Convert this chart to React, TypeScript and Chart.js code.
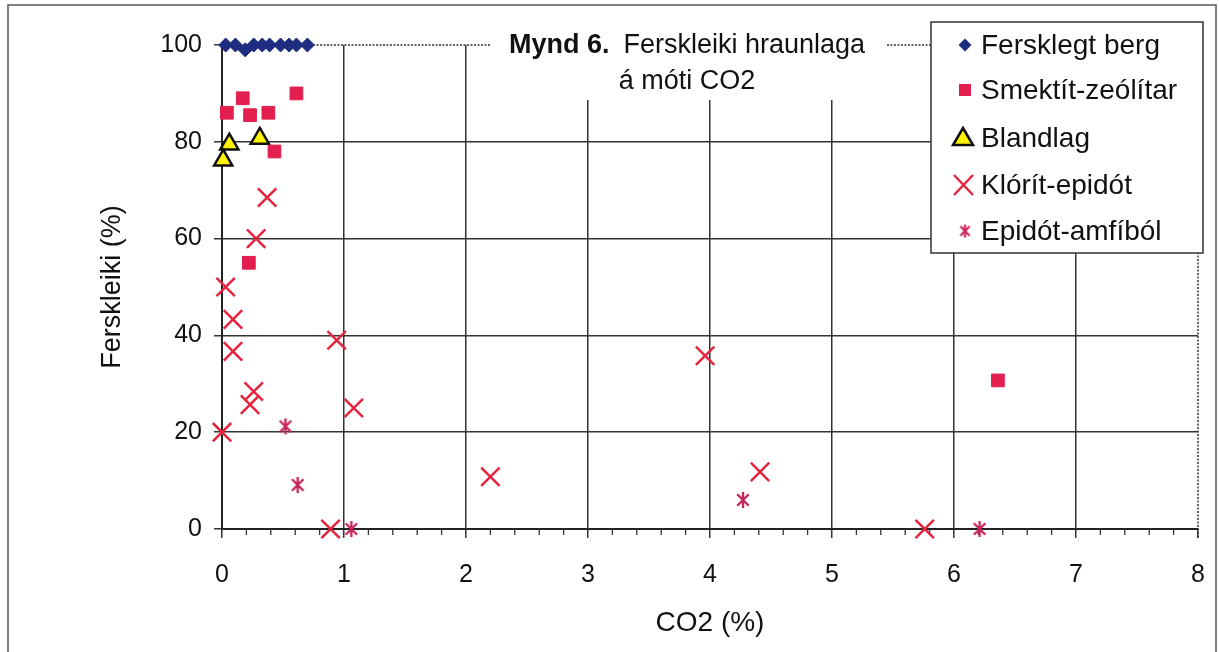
import React, { useEffect, useRef } from 'react';
import { Chart, registerables } from 'chart.js';

Chart.register(...registerables);

const FONT = '"Liberation Sans", Arial, Helvetica, sans-serif';

// ---- data ----
const xTickValues = [0, 1, 2, 3, 4, 5, 6, 7, 8];
const yTickValues = [0, 20, 40, 60, 80, 100];

const seriesNames = ['Fersklegt berg', 'Smektít-zeólítar', 'Blandlag', 'Klórít-epidót', 'Epidót-amfíból'];

const ferskX = [0.03, 0.11, 0.19, 0.26, 0.33, 0.39, 0.48, 0.55, 0.61, 0.70];
const ferskY = [100, 100, 99, 100, 100, 100, 100, 100, 100, 100];

const smekX = [0.04, 0.17, 0.23, 0.38, 0.61, 0.43, 0.22, 6.36];
const smekY = [86, 89, 85.5, 86, 90, 78, 55, 30.7];

const blandX = [0.06, 0.01, 0.31];
const blandY = [79.5, 76.2, 80.7];

const klorX = [0.37, 0.28, 0.03, 0.09, 0.09, 0.94, 0.26, 0.23, 1.08, 0.0, 0.89, 2.2, 3.96, 4.41, 5.76];
const klorY = [68.5, 60, 50, 43.3, 36.7, 39, 28.4, 25.7, 25, 20, 0, 10.8, 35.8, 11.8, 0];

const epiX = [0.52, 0.62, 1.06, 4.27, 6.21];
const epiY = [21.2, 9.1, 0, 6, 0];

const titleBold = 'Mynd 6.';
const titleRest = 'Ferskleiki hraunlaga';
const titleLine2 = 'á móti CO2';
const xTitle = 'CO2 (%)';
const yTitle = 'Ferskleiki (%)';

// ---- styles ----
const C_DIAMOND = '#1f2d80';
const C_SQUARE = '#e21f4f';
const C_TRI_FILL = '#fff200';
const C_TRI_BORDER = '#111111';
const C_CROSS = '#e3253f';
const C_STAR = '#c8265e';
const C_GRID = '#333333';
const C_TEXT = '#111111';

const toPts = (xs: number[], ys: number[]) => xs.map((x, i) => ({ x, y: ys[i] }));

function makeAsterisk(color: string, size: number, lw: number) {
  const c = document.createElement('canvas');
  c.width = size;
  c.height = size;
  const g = c.getContext('2d')!;
  g.strokeStyle = color;
  g.lineWidth = lw;
  const m = size / 2;
  const r = size / 2 - 1;
  const d = r * 0.72;
  g.beginPath();
  g.moveTo(m, m - r);
  g.lineTo(m, m + r);
  g.moveTo(m - d, m - d);
  g.lineTo(m + d, m + d);
  g.moveTo(m + d, m - d);
  g.lineTo(m - d, m + d);
  g.stroke();
  return c;
}

export default function App() {
  const ref = useRef<HTMLCanvasElement | null>(null);

  useEffect(() => {
    if (!ref.current) return;
    const star = makeAsterisk(C_STAR, 18, 2.4);
    const starSmall = makeAsterisk(C_STAR, 15, 2.2);

    const decor = {
      id: 'decor',
      beforeDatasetsDraw(chart: any) {
        const { ctx, chartArea: a, scales } = chart;
        const x = scales.x;
        const y = scales.y;
        ctx.save();
        // dotted plot border (top and right)
        ctx.strokeStyle = '#333';
        ctx.lineWidth = 1.5;
        ctx.setLineDash([2, 1.5]);
        const yt = y.getPixelForValue(y.max);
        const xr = x.getPixelForValue(x.max);
        ctx.beginPath();
        ctx.moveTo(a.left, yt);
        ctx.lineTo(xr, yt);
        ctx.lineTo(xr, y.getPixelForValue(y.min) + 9);
        ctx.stroke();
        ctx.setLineDash([]);
        // minor ticks on x axis
        ctx.strokeStyle = C_GRID;
        ctx.lineWidth = 1.3;
        ctx.beginPath();
        for (let k = 1; k < (x.max - x.min) * 5; k++) {
          if (k % 5 === 0) continue;
          const px = x.getPixelForValue(x.min + k / 5);
          ctx.moveTo(px, a.bottom);
          ctx.lineTo(px, a.bottom + 6);
        }
        ctx.stroke();
        ctx.restore();
      },
      afterDraw(chart: any) {
        const { ctx } = chart;
        ctx.save();
        // ---- title ----
        ctx.fillStyle = '#ffffff';
        ctx.fillRect(490, 28, 396, 72);
        ctx.fillStyle = C_TEXT;
        ctx.textBaseline = 'middle';
        ctx.font = `bold 27px ${FONT}`;
        const wB = ctx.measureText(titleBold).width;
        ctx.font = `27px ${FONT}`;
        const wN = ctx.measureText(titleRest).width;
        const gap = 14;
        const total = wB + gap + wN;
        const cx = 687;
        const sx = cx - total / 2;
        ctx.textAlign = 'left';
        ctx.font = `bold 27px ${FONT}`;
        ctx.fillText(titleBold, sx, 46);
        ctx.font = `27px ${FONT}`;
        ctx.fillText(titleRest, sx + wB + gap, 46);
        ctx.textAlign = 'center';
        ctx.fillText(titleLine2, cx, 82);

        // ---- legend ----
        const lx = 931, ly = 22, lw = 272, lh = 231;
        ctx.fillStyle = '#ffffff';
        ctx.fillRect(lx, ly, lw, lh);
        ctx.strokeStyle = '#333';
        ctx.lineWidth = 1.5;
        ctx.strokeRect(lx, ly, lw, lh);
        const rows = [45, 90, 138, 185, 231];
        const symX = 965;
        // diamond
        ctx.fillStyle = C_DIAMOND;
        ctx.beginPath();
        ctx.moveTo(symX - 6.5, rows[0]);
        ctx.lineTo(symX, rows[0] - 6.5);
        ctx.lineTo(symX + 6.5, rows[0]);
        ctx.lineTo(symX, rows[0] + 6.5);
        ctx.closePath();
        ctx.fill();
        // square
        ctx.fillStyle = C_SQUARE;
        ctx.fillRect(symX - 6, rows[1] - 6, 12, 12);
        // triangle
        ctx.fillStyle = C_TRI_FILL;
        ctx.strokeStyle = C_TRI_BORDER;
        ctx.lineWidth = 2.5;
        ctx.beginPath();
        ctx.moveTo(symX - 2, rows[2] - 10);
        ctx.lineTo(symX + 8, rows[2] + 7);
        ctx.lineTo(symX - 12, rows[2] + 7);
        ctx.closePath();
        ctx.fill();
        ctx.stroke();
        // cross
        ctx.strokeStyle = C_CROSS;
        ctx.lineWidth = 2.5;
        ctx.beginPath();
        ctx.moveTo(symX - 11, rows[3] - 10);
        ctx.lineTo(symX + 8, rows[3] + 10);
        ctx.moveTo(symX + 8, rows[3] - 10);
        ctx.lineTo(symX - 11, rows[3] + 10);
        ctx.stroke();
        // asterisk
        ctx.drawImage(starSmall, symX - 7.5, rows[4] - 7.5);
        // labels
        ctx.fillStyle = C_TEXT;
        ctx.font = `28px ${FONT}`;
        ctx.textAlign = 'left';
        ctx.textBaseline = 'middle';
        seriesNames.forEach((n, i) => ctx.fillText(n, 981, rows[i] + 1));

        // ---- outer frame ----
        ctx.strokeStyle = '#555';
        ctx.lineWidth = 1.5;
        ctx.beginPath();
        ctx.moveTo(8, 660);
        ctx.lineTo(8, 5);
        ctx.lineTo(1216, 5);
        ctx.lineTo(1216, 660);
        ctx.stroke();
        ctx.restore();
      },
    };

    const chart = new Chart(ref.current, {
      type: 'scatter',
      data: {
        datasets: [
          {
            label: seriesNames[0],
            data: toPts(ferskX, ferskY),
            pointStyle: 'rectRot',
            pointRadius: 7,
            backgroundColor: C_DIAMOND,
            borderColor: C_DIAMOND,
            borderWidth: 1,
            clip: false,
          },
          {
            label: seriesNames[1],
            data: toPts(smekX, smekY),
            pointStyle: 'rect',
            pointRadius: 9,
            backgroundColor: C_SQUARE,
            borderColor: C_SQUARE,
            borderWidth: 1,
            clip: false,
          },
          {
            label: seriesNames[2],
            data: toPts(blandX, blandY),
            pointStyle: 'triangle',
            pointRadius: 10.5,
            backgroundColor: C_TRI_FILL,
            borderColor: C_TRI_BORDER,
            borderWidth: 2.5,
            clip: false,
          },
          {
            label: seriesNames[3],
            data: toPts(klorX, klorY),
            pointStyle: 'crossRot',
            pointRadius: 13,
            backgroundColor: C_CROSS,
            borderColor: C_CROSS,
            borderWidth: 2.5,
            clip: false,
          },
          {
            label: seriesNames[4],
            data: toPts(epiX, epiY),
            pointStyle: star as any,
            pointRadius: 9,
            backgroundColor: C_STAR,
            borderColor: C_STAR,
            clip: false,
          },
        ],
      },
      options: {
        animation: false,
        responsive: false,
        maintainAspectRatio: false,
        events: [],
        layout: { padding: { left: 0, right: 21, top: 45, bottom: 0 } },
        plugins: {
          legend: { display: false },
          title: { display: false },
          tooltip: { enabled: false },
        },
        scales: {
          x: {
            type: 'linear',
            min: xTickValues[0],
            max: xTickValues[xTickValues.length - 1],
            afterFit: (s: any) => {
              s.height = 123;
              s.paddingLeft = 0;
              s.paddingRight = 0;
            },
            afterBuildTicks: (s: any) => { s.ticks = xTickValues.map((v) => ({ value: v })); },
            ticks: {
              stepSize: 1,
              autoSkip: false,
              maxRotation: 0,
              padding: 22,
              color: C_TEXT,
              font: { family: FONT, size: 25 },
            },
            grid: {
              color: (c: any) => (c.tick && c.tick.value === 8 ? 'rgba(0,0,0,0)' : C_GRID),
              tickColor: C_GRID,
              lineWidth: 1.5,
              tickLength: 9,
            },
            border: { display: true, color: '#222', width: 2 },
            title: {
              display: true,
              text: xTitle,
              color: C_TEXT,
              font: { family: FONT, size: 28 },
              padding: { top: 0, bottom: 12 },
            },
          },
          y: {
            type: 'linear',
            min: yTickValues[0],
            max: yTickValues[yTickValues.length - 1],
            afterFit: (s: any) => { s.width = 222; },
            afterBuildTicks: (s: any) => { s.ticks = yTickValues.map((v) => ({ value: v })); },
            ticks: {
              stepSize: 20,
              padding: 12,
              color: C_TEXT,
              font: { family: FONT, size: 25 },
            },
            grid: {
              color: (c: any) => (c.tick && c.tick.value === 100 ? 'rgba(0,0,0,0)' : C_GRID),
              tickColor: C_GRID,
              lineWidth: 1.5,
              tickLength: 8,
            },
            border: { display: true, color: '#222', width: 2 },
            title: {
              display: true,
              text: yTitle,
              color: C_TEXT,
              font: { family: FONT, size: 27 },
              padding: { top: 96, bottom: 0 },
            },
          },
        },
      },
      plugins: [decor],
    });

    return () => chart.destroy();
  }, []);

  return (
    <div style={{ position: 'absolute', left: 0, top: 0, width: 1219, height: 652, background: '#fff' }}>
      <canvas ref={ref} width={1219} height={652} style={{ display: 'block', width: 1219, height: 652 }} />
    </div>
  );
}
